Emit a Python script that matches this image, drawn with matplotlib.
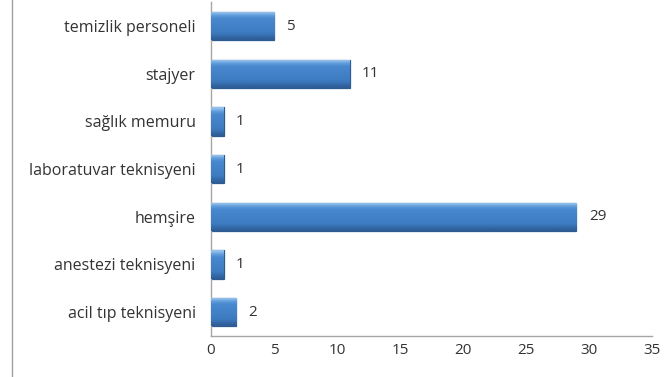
import matplotlib.pyplot as plt
import numpy as np
from matplotlib.lines import Line2D

categories = ["temizlik personeli", "stajyer", "sağlık memuru", "laboratuvar teknisyeni",
              "hemşire", "anestezi teknisyeni", "acil tıp teknisyeni"]
values = [5, 11, 1, 1, 29, 1, 2]
xticks = [0, 5, 10, 15, 20, 25, 30, 35]

plt.rcParams['font.family'] = ['Open Sans', 'DejaVu Sans']

fig = plt.figure(figsize=(6.69, 3.77), dpi=100)
ax = fig.add_axes([0.3154, 0.1088, 0.6592, 0.885])

y = np.arange(len(categories))[::-1]
h = 0.6
bars = ax.barh(y, values, height=h, color='#3E7BC1', edgecolor='#2C5B90', linewidth=0.9, zorder=2)

# vertical gradient: light strip on top, darker toward the bottom
grad = np.array([[0.95], [0.75], [0.6], [0.56], [0.52], [0.48], [0.44], [0.38], [0.25], [0.1]])
cmap = plt.matplotlib.colors.LinearSegmentedColormap.from_list('b', ['#2A5489', '#3B77BD', '#4C8DD3', '#9CC8F0'])
for bar, yy, v in zip(bars, y, values):
    im = ax.imshow(grad, extent=(0, v, yy - h / 2, yy + h / 2), aspect='auto',
                   cmap=cmap, vmin=0, vmax=1, zorder=3, interpolation='bilinear')
    im.set_clip_path(bar)
    ax.annotate(str(v), (v, yy), xytext=(9, 0), textcoords='offset points',
                va='center', ha='left', fontsize=11, color='#333333')

ax.set_xlim(0, 35)
ax.set_ylim(-0.5, len(categories) - 0.5)
ax.set_yticks(y)
ax.set_yticklabels(categories, fontsize=11.5, color='#333333')
ax.set_xticks(xticks)
ax.set_xticklabels([str(t) for t in xticks], fontsize=11, color='#333333')
ax.tick_params(length=0)
ax.tick_params(axis='y', pad=11)
ax.tick_params(axis='x', pad=5)
for s in ['top', 'right']:
    ax.spines[s].set_visible(False)
for s in ['left', 'bottom']:
    ax.spines[s].set_color('#A6A6A6')
    ax.spines[s].set_linewidth(1)

fig.add_artist(Line2D([12 / 669, 12 / 669], [0, 1], transform=fig.transFigure, color='#A0A0A0', lw=1))

plt.savefig('out.png', dpi=100)
